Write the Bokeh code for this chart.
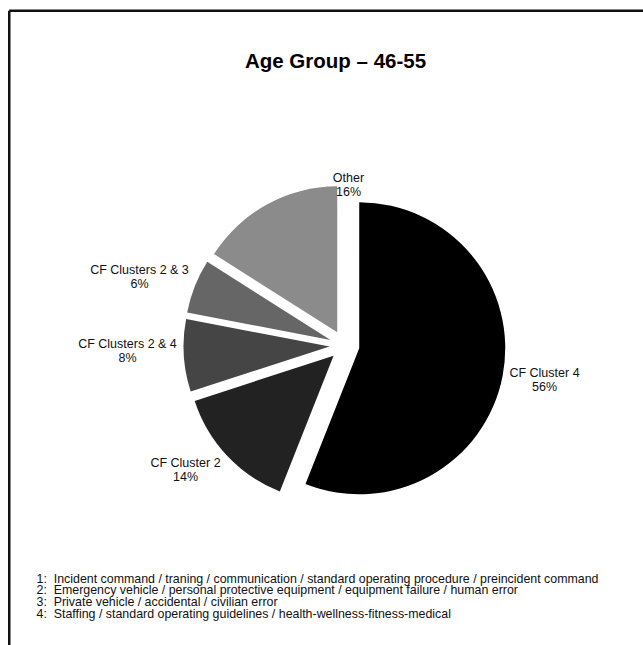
from math import radians, sin, cos

from bokeh.plotting import figure
from bokeh.models import Range1d, ColumnDataSource
from bokeh.core.properties import value
from bokeh.embed import file_html
from bokeh.resources import INLINE

# ---- data -------------------------------------------------------------
categories = ["CF Cluster 4", "CF Cluster 2", "CF Clusters 2 & 4", "CF Clusters 2 & 3", "Other"]
shares = [56, 14, 8, 6, 16]
colors = ["#000000", "#222222", "#454545", "#666666", "#8b8b8b"]

title_text = "Age Group \u2013 46-55"
footnotes = [
    "1:\u00a0 Incident command / traning / communication / standard operating procedure / preincident command",
    "2:\u00a0 Emergency vehicle / personal protective equipment / equipment failure / human error",
    "3:\u00a0 Private vehicle / accidental / civilian error",
    "4:\u00a0 Staffing / standard operating guidelines / health-wellness-fitness-medical",
]

# ---- layout (pixels, measured from the top-left of the page) ----------
W, H = 643, 645
CX, CY = 344, 345          # pie centre
R = 146                    # pie radius
EXPLODE = 15               # distance each slice is pulled out
# label block positions (x centre, y of the name line) for each slice, in order
label_pos = [(544, 372), (185, 462), (127, 343), (139, 269), (348, 177)]
LINE_GAP = 14

FONT = value("Liberation Sans")


def fy(y):
    """Convert a top-down pixel row into the plot's y coordinate."""
    return H - y


p = figure(width=W, height=H, x_range=Range1d(0, W), y_range=Range1d(0, H),
           x_axis_location=None, y_axis_location=None,
           toolbar_location=None, output_backend="svg",
           min_border=0, min_border_left=0, min_border_right=0,
           min_border_top=0, min_border_bottom=0)
p.grid.visible = False
p.outline_line_color = None
p.background_fill_color = "white"
p.border_fill_color = "white"

# ---- frame lines along the top and left edges --------------------------
p.line([8.75, W], [fy(10.25), fy(10.25)], line_color="#111111", line_width=2.5)
p.line([8.75, 8.75], [fy(10.25), 0], line_color="#111111", line_width=2.5)

# ---- exploded pie: slices run clockwise from 12 o'clock -----------------
total = float(sum(shares))
xs, ys, starts, ends = [], [], [], []
acc = 0.0
for s in shares:
    a0 = acc / total * 360.0
    a1 = (acc + s) / total * 360.0
    mid = radians((a0 + a1) / 2.0)
    xs.append(CX + EXPLODE * sin(mid))
    ys.append(fy(CY - EXPLODE * cos(mid)))
    starts.append(radians(90.0 - a0))
    ends.append(radians(90.0 - a1))
    acc += s

src = ColumnDataSource(dict(x=xs, y=ys, start=starts, end=ends, color=colors))
p.wedge(x="x", y="y", radius=R, radius_units="screen",
        start_angle="start", end_angle="end", direction="clock",
        fill_color="color", line_color=None, source=src)

# ---- slice labels: name plus percentage ---------------------------------
pct_labels = [f"{s}%" for s in shares]
lab = ColumnDataSource(dict(
    x=[lp[0] for lp in label_pos],
    y1=[fy(lp[1]) for lp in label_pos],
    y2=[fy(lp[1] + LINE_GAP) for lp in label_pos],
    name=categories, pct=pct_labels))
p.text(x="x", y="y1", text="name", source=lab, text_font=FONT,
       text_font_size="12.5px", text_align="center", text_baseline="middle",
       text_color="#111111")
p.text(x="x", y="y2", text="pct", source=lab, text_font=FONT,
       text_font_size="12.5px", text_align="center", text_baseline="middle",
       text_color="#111111")

# ---- title --------------------------------------------------------------
p.text(x=[335], y=[fy(60)], text=[title_text], text_font=FONT,
       text_font_size="20.5px", text_font_style="bold",
       text_align="center", text_baseline="middle", text_color="#000000")

# ---- footnotes ----------------------------------------------------------
fn_y = [fy(578 + i * 11.7) for i in range(len(footnotes))]
p.text(x=[36] * len(footnotes), y=fn_y, text=footnotes, text_font=FONT,
       text_font_size="12.4px", text_align="left", text_baseline="middle",
       text_color="#111111")

open("out.html", "w").write(file_html(p, INLINE))
